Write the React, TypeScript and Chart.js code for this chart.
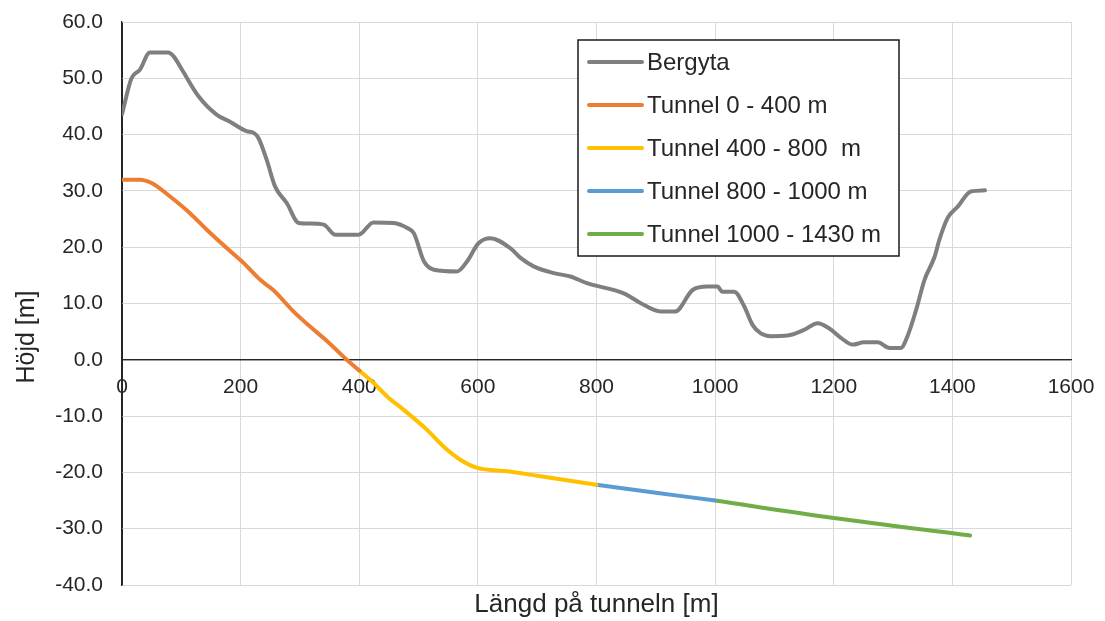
import React, { useEffect, useRef } from "react";
import { Chart, registerables } from "chart.js";

Chart.register(...registerables);

// Bergyta (rock surface) profile
const bergytaX = [0, 16, 30, 47, 78, 87, 103, 129, 160, 182, 210, 222, 230, 244, 258, 278, 298, 317, 340, 360, 399, 424, 458, 481, 492, 509, 526, 565, 582, 601, 621, 655, 672, 694, 728, 756, 784, 846, 874, 908, 933, 962, 987, 1004, 1012, 1032, 1049, 1063, 1077, 1094, 1122, 1150, 1173, 1192, 1212, 1232, 1251, 1274, 1294, 1313, 1324, 1339, 1353, 1370, 1378, 1392, 1409, 1431, 1455];
const bergytaY = [43.6, 50.0, 51.5, 54.6, 54.6, 53.9, 51.2, 46.8, 43.5, 42.3, 40.6, 40.3, 39.4, 35.5, 30.8, 27.8, 24.3, 24.2, 24.0, 22.2, 22.2, 24.4, 24.3, 23.4, 22.5, 17.5, 16.0, 15.7, 17.5, 20.7, 21.6, 19.8, 18.1, 16.6, 15.4, 14.8, 13.6, 11.8, 10.1, 8.6, 8.6, 12.4, 13.0, 13.0, 12.1, 12.1, 9.5, 6.2, 4.7, 4.2, 4.3, 5.3, 6.5, 5.6, 3.9, 2.7, 3.1, 3.1, 2.1, 2.1, 4.1, 8.9, 14.2, 18.3, 21.3, 25.2, 27.2, 29.9, 30.1];

// Tunnel segments
const tunnel1X = [0, 30, 50, 81, 115, 143, 177, 205, 233, 255, 289, 317, 346, 379, 400];
const tunnel1Y = [32.0, 32.0, 31.4, 29.0, 26.0, 23.1, 19.8, 17.2, 14.2, 12.4, 8.6, 5.9, 3.3, 0.0, -1.9];
const tunnel2X = [400, 424, 447, 475, 514, 542, 571, 599, 649, 700, 800];
const tunnel2Y = [-1.9, -4.1, -6.5, -8.9, -12.4, -15.4, -17.8, -19.2, -19.8, -20.6, -22.2];
const tunnel3X = [800, 900, 1000];
const tunnel3Y = [-22.2, -23.6, -25.0];
const tunnel4X = [1000, 1200, 1430];
const tunnel4Y = [-25.0, -28.1, -31.2];

const seriesLabels = ["Bergyta", "Tunnel 0 - 400 m", "Tunnel 400 - 800  m", "Tunnel 800 - 1000 m", "Tunnel 1000 - 1430 m"];
const seriesColors = ["#7f7f7f", "#ed7d31", "#ffc000", "#5b9bd5", "#70ad47"];

const xTitle = "Längd på tunneln [m]";
const yTitle = "Höjd [m]";

const X_MIN = 0, X_MAX = 1600, X_STEP = 200;
const Y_MIN = -40, Y_MAX = 60, Y_STEP = 10;

const FONT = "'Liberation Sans', Arial, sans-serif";
const TEXT_COLOR = "#262626";

function pts(xs: number[], ys: number[]) {
  return xs.map((x, i) => ({ x, y: ys[i] }));
}

const overlayPlugin = {
  id: "overlay",
  afterDraw(chart: any) {
    const { ctx, chartArea } = chart;
    ctx.save();
    // axis titles
    ctx.fillStyle = TEXT_COLOR;
    ctx.font = `26px ${FONT}`;
    ctx.textAlign = "center";
    ctx.textBaseline = "middle";
    ctx.fillText(xTitle, (chartArea.left + chartArea.right) / 2, 605);
    ctx.font = `25px ${FONT}`;
    ctx.save();
    ctx.translate(27, 337);
    ctx.rotate(-Math.PI / 2);
    ctx.fillText(yTitle, 0, 0);
    ctx.restore();

    // legend
    const bx = 578, by = 40, bw = 321, bh = 216;
    ctx.fillStyle = "#ffffff";
    ctx.fillRect(bx, by, bw, bh);
    ctx.strokeStyle = "#1a1a1a";
    ctx.lineWidth = 1.5;
    ctx.strokeRect(bx, by, bw, bh);
    ctx.font = `24px ${FONT}`;
    ctx.textAlign = "left";
    chart.data.datasets.forEach((ds: any, i: number) => {
      const y = 62 + i * 43;
      ctx.strokeStyle = ds.borderColor;
      ctx.lineWidth = 4;
      ctx.lineCap = "round";
      ctx.beginPath();
      ctx.moveTo(589, y);
      ctx.lineTo(642, y);
      ctx.stroke();
      ctx.fillStyle = TEXT_COLOR;
      ctx.fillText(ds.label, 647, y + 1);
    });
    ctx.restore();
  },
};

export default function App() {
  const ref = useRef<HTMLCanvasElement | null>(null);
  useEffect(() => {
    document.body.style.margin = "0";
    const canvas = ref.current!;
    const data = [
      pts(bergytaX, bergytaY),
      pts(tunnel1X, tunnel1Y),
      pts(tunnel2X, tunnel2Y),
      pts(tunnel3X, tunnel3Y),
      pts(tunnel4X, tunnel4Y),
    ];
    const chart = new Chart(canvas, {
      type: "line",
      data: {
        datasets: data.map((d, i) => ({
          label: seriesLabels[i],
          data: d,
          borderColor: seriesColors[i],
          backgroundColor: seriesColors[i],
          borderWidth: 4,
          pointRadius: 0,
          fill: false,
          cubicInterpolationMode: "monotone" as const,
          borderCapStyle: "round" as const,
          borderJoinStyle: "round" as const,
        })),
      },
      options: {
        animation: false,
        responsive: false,
        maintainAspectRatio: false,
        layout: { padding: { left: 0, top: 22, right: 34, bottom: 36 } },
        plugins: { legend: { display: false }, tooltip: { enabled: false }, title: { display: false } },
        scales: {
          x: {
            type: "linear",
            position: { y: 0 } as any,
            min: X_MIN,
            max: X_MAX,
            grid: {
              drawTicks: false,
              color: (c: any) => (c.tick && c.tick.value === 0 ? "#262626" : "#d9d9d9"),
              lineWidth: 1,
            },
            border: { display: true, color: "#262626", width: 1.3 },
            ticks: {
              stepSize: X_STEP,
              padding: 15,
              color: TEXT_COLOR,
              font: { family: FONT, size: 21 },
              maxRotation: 0,
              callback: (v: any) => String(v),
            },
            afterFit: (s: any) => {
              s.paddingLeft = 0;
              s.paddingRight = 0;
            },
          },
          y: {
            type: "linear",
            position: "left",
            min: Y_MIN,
            max: Y_MAX,
            grid: {
              drawTicks: false,
              color: (c: any) => (c.tick && c.tick.value === 0 ? "#262626" : "#d9d9d9"),
              lineWidth: (c: any) => (c.tick && c.tick.value === 0 ? 1.3 : 1),
            },
            border: { display: true, color: "#262626", width: 1.3 },
            ticks: {
              stepSize: Y_STEP,
              padding: 19,
              color: TEXT_COLOR,
              font: { family: FONT, size: 21 },
              callback: (v: any) => Number(v).toFixed(1),
            },
            afterFit: (s: any) => {
              s.width = 122;
              s.paddingTop = 0;
              s.paddingBottom = 0;
            },
          },
        },
      },
      plugins: [overlayPlugin],
    });
    return () => chart.destroy();
  }, []);
  return (
    <div style={{ position: "fixed", left: 0, top: 0, width: 1105, height: 621, background: "#fff" }}>
      <canvas ref={ref} width={1105} height={621} style={{ width: 1105, height: 621, display: "block" }} />
    </div>
  );
}
